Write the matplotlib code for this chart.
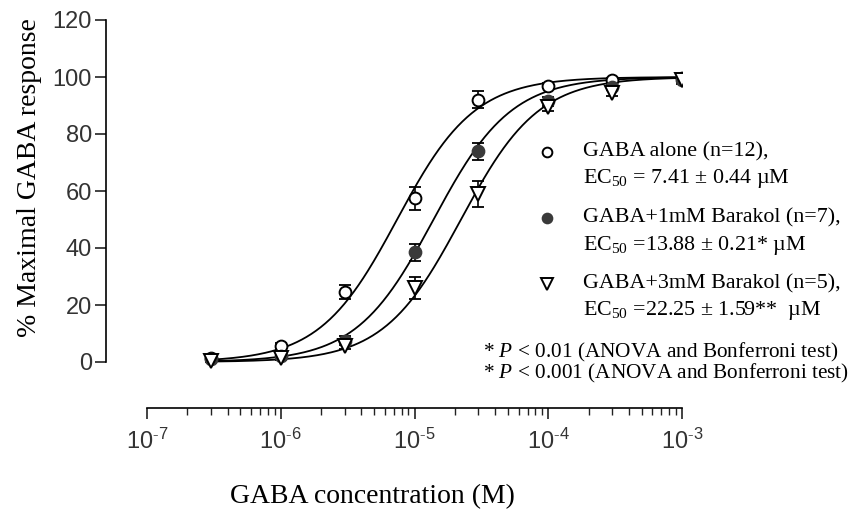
import numpy as np
import matplotlib
matplotlib.use("Agg")
import matplotlib.pyplot as plt
from matplotlib.lines import Line2D
from matplotlib.ticker import FixedLocator, NullFormatter

plt.rcParams["mathtext.fontset"] = "custom"
plt.rcParams["mathtext.rm"] = "Liberation Serif"
plt.rcParams["mathtext.it"] = "Liberation Serif:italic"

SERIF = "Liberation Serif"
SANS = "Liberation Sans"

# GABA concentrations (M)
conc = [3e-7, 1e-6, 3e-6, 1e-5, 3e-5, 1e-4, 3e-4, 1e-3]

# Mean responses (% of maximal GABA response) and SEM
gaba_alone = [1.5, 5.5, 24.5, 57.5, 92.0, 97.0, 98.8, 99.6]
gaba_alone_err = [0.8, 1.0, 2.5, 4.0, 3.0, 1.0, 1.0, 1.0]
barakol_1mm = [1.0, 2.0, 7.5, 38.5, 74.0, 91.5, 96.5, 99.0]
barakol_1mm_err = [0.5, 0.8, 1.5, 3.0, 3.0, 1.5, 1.0, 1.0]
barakol_3mm = [0.5, 1.5, 5.5, 26.0, 59.0, 89.5, 94.5, 99.0]
barakol_3mm_err = [0.5, 0.8, 1.0, 4.0, 4.5, 1.5, 1.0, 1.5]

# Fitted EC50 values (µM) and Hill slope
ec50 = [7.41, 13.88, 22.25]
hill = 1.5

labels = [
    "GABA alone (n=12),",
    "GABA+1mM Barakol (n=7),",
    "GABA+3mM Barakol (n=5),",
]
ec50_labels = [
    "EC$_{\\mathregular{50}}$ = 7.41 ± 0.44 µM",
    "EC$_{\\mathregular{50}}$ =13.88 ± 0.21* µM",
    "EC$_{\\mathregular{50}}$ =22.25 ± 1.59**  µM",
]
notes = [
    "* $\\mathit{P}$ < 0.01 (ANOVA and Bonferroni test)",
    "* $\\mathit{P}$ < 0.001 (ANOVA and Bonferroni test)",
]

y_ticks = [0, 20, 40, 60, 80, 100, 120]
x_ticks = [1e-7, 1e-6, 1e-5, 1e-4, 1e-3]

W, H = 852, 514
fig = plt.figure(figsize=(W / 100, H / 100), dpi=100)
ax_left, ax_right, ax_top, ax_bottom = 106, 682, 20, 408
ax = fig.add_axes([ax_left / W, 1 - ax_bottom / H,
                   (ax_right - ax_left) / W, (ax_bottom - ax_top) / H])

series = [
    (gaba_alone, gaba_alone_err, dict(marker="o", mfc="white", mec="black", ms=8.5)),
    (barakol_1mm, barakol_1mm_err, dict(marker="o", mfc="#3a3a3a", mec="#3a3a3a", ms=8.5)),
    (barakol_3mm, barakol_3mm_err, dict(marker="v", mfc="white", mec="black", ms=9.5)),
]

xs = np.logspace(np.log10(conc[0]), np.log10(conc[-1]), 400)
for (vals, errs, style), e in zip(series, ec50):
    fit = 100.0 / (1.0 + (e * 1e-6 / xs) ** hill)
    ax.plot(xs, fit, color="black", lw=1.3, zorder=2)
    ax.errorbar(conc, vals, yerr=errs, fmt="none", ecolor="black",
                elinewidth=1.2, capsize=4.5, capthick=1.3, zorder=3)
    ax.plot(conc, vals, ls="none", mew=1.4, zorder=4, **style)

ax.set_xscale("log")
zero_px = 362
px_per_unit = (zero_px - ax_top) / 120.0
ax.set_xlim(10 ** (-7 - (147 - ax_left) / ((ax_right - 147) / 4)), 1e-3)
ax.set_ylim(-(ax_bottom - zero_px) / px_per_unit, 120)

for s in ("top", "right"):
    ax.spines[s].set_visible(False)
ax.spines["left"].set_bounds(0, 120)
ax.spines["bottom"].set_bounds(1e-7, 1e-3)
ax.spines["left"].set_linewidth(1.2)
ax.spines["bottom"].set_linewidth(1.2)

ax.set_yticks(y_ticks)
ax.set_yticklabels([str(v) for v in y_ticks], fontfamily=SANS, fontsize=17)
ax.set_xticks(x_ticks)
ax.set_xticklabels(["$\\mathregular{10^{\\text{-}%d}}$" % int(round(-np.log10(v))) for v in x_ticks],
                   fontfamily=SANS, fontsize=17)
minor = [m * 10.0 ** d for d in range(-7, -3) for m in range(2, 10)]
ax.xaxis.set_minor_locator(FixedLocator(minor))
ax.xaxis.set_minor_formatter(NullFormatter())
ax.tick_params(axis="y", length=8, width=1.2, pad=2, color="#222222", labelcolor="#333333")
ax.tick_params(axis="x", which="major", length=8, width=1.2, pad=7, color="#222222", labelcolor="#333333")
ax.tick_params(axis="x", which="minor", length=5, width=1.0, color="#222222")

ax.set_ylabel("% Maximal GABA response", fontfamily=SERIF, fontsize=20)
ax.yaxis.set_label_coords(-(ax_left - 30) / (ax_right - ax_left),
                          (ax_bottom - 178) / (ax_bottom - ax_top))
ax.yaxis.label.set_va("center")
ax.set_xlabel("GABA concentration (M)", fontfamily=SERIF, fontsize=20)
ax.xaxis.set_label_coords((372 - ax_left) / (ax_right - ax_left),
                          -(497 - ax_bottom) / (ax_bottom - ax_top))
ax.xaxis.label.set_va("center")

# Legend block: marker, series name, then fitted EC50 on the line below
leg_marker_x = 547
leg_text_x = 583
leg_rows = [152, 218, 284]
for (vals, errs, style), lab, ecl, yr in zip(series, labels, ec50_labels, leg_rows):
    fig.lines.append(Line2D([leg_marker_x / W], [1 - yr / H], transform=fig.transFigure,
                            ls="none", mew=1.4, **{**style, "ms": style["ms"] - 1.5}))
    fig.text(leg_text_x / W, 1 - yr / H, lab, fontfamily=SERIF, fontsize=15.8,
             va="center", ha="left")
    fig.text(leg_text_x / W, 1 - (yr + 27) / H, ecl, fontfamily=SERIF, fontsize=15.8,
             va="center", ha="left")

for i, t in enumerate(notes):
    fig.text(483 / W, 1 - (352 + 21 * i) / H, t, fontfamily=SERIF, fontsize=15.3,
             va="center", ha="left")

fig.savefig("out.png", dpi=100, facecolor="white")
